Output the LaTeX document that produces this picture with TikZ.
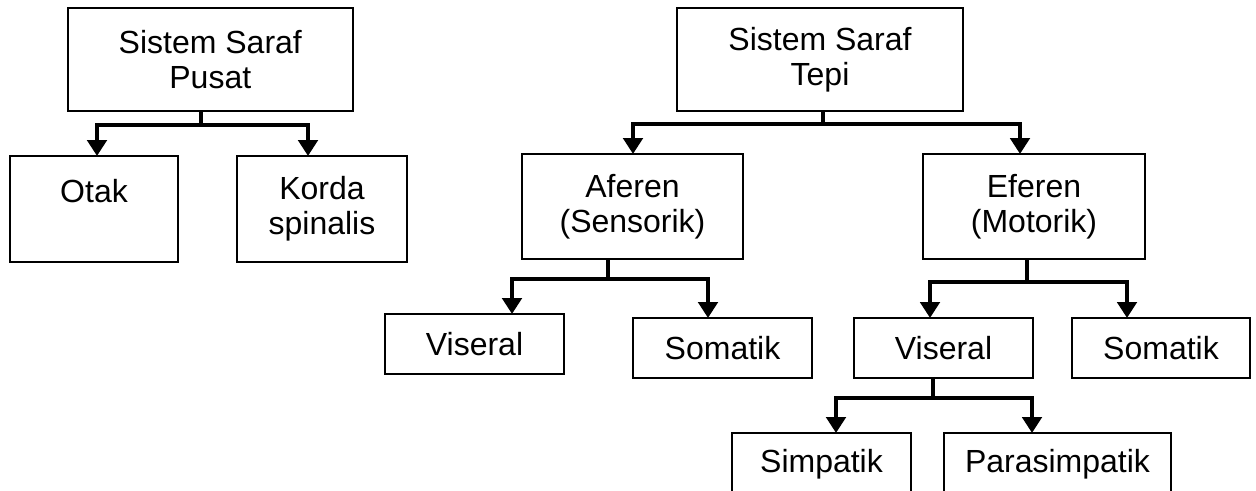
\documentclass[tikz,border=0pt]{standalone}
\usepackage{fontspec}
\setmainfont{Liberation Sans}
\usetikzlibrary{arrows.meta}
\begin{document}
\begin{tikzpicture}[x=0.75pt,y=-0.75pt,
  bx/.style={draw, line width=1.3pt, inner sep=0pt, outer sep=0pt, align=center,
    font=\fontsize{24}{26.5}\selectfont},
  conn/.style={line width=3pt, line join=miter, -{Triangle[width=14.5pt,length=12pt]}},
  stemline/.style={line width=3pt}]
\useasboundingbox (0,0) rectangle (1256,490);
\clip (0,0) rectangle (1256,490);
% boxes
\node[bx, minimum width=285*0.75pt, minimum height=103*0.75pt] (pusat) at (210.3,59.5) {Sistem Saraf\\Pusat};
\node[bx, minimum width=168*0.75pt, minimum height=106*0.75pt] (otak) at (94,209) {Otak\\\mbox{}};
\node[bx, minimum width=170*0.75pt, minimum height=106*0.75pt] (korda) at (322,209) {Korda\\spinalis};
\node[bx, minimum width=286*0.75pt, minimum height=103*0.75pt] (tepi) at (820,59.5) {Sistem Saraf\\Tepi};
\node[bx, minimum width=221*0.75pt, minimum height=105*0.75pt] (aferen) at (632.5,206.5) {Aferen\\(Sensorik)};
\node[bx, minimum width=222*0.75pt, minimum height=105*0.75pt] (eferen) at (1034,206.5) {Eferen\\(Motorik)};
\node[bx, minimum width=179*0.75pt, minimum height=60*0.75pt] (visL) at (474.5,344) {Viseral};
\node[bx, minimum width=179*0.75pt, minimum height=60*0.75pt] (somL) at (722.5,348) {Somatik};
\node[bx, minimum width=179*0.75pt, minimum height=60*0.75pt] (visR) at (943.5,348) {Viseral};
\node[bx, minimum width=178*0.75pt, minimum height=60*0.75pt] (somR) at (1161,348) {Somatik};
\node[bx, minimum width=179*0.75pt, minimum height=62*0.75pt] (simp) at (821.5,464) {Simpatik};
\node[bx, minimum width=227*0.75pt, minimum height=62*0.75pt] (para) at (1057.5,464) {Parasimpatik};
% bus junctions
\coordinate (b1) at (201,125);
\coordinate (b2) at (823,124);
\coordinate (b3) at (608,279);
\coordinate (b4) at (1027,282);
\coordinate (b5) at (933,398);
% connectors
\draw[stemline] ([shift={(-9.3,0)}]pusat.south) -- (b1);
\draw[conn] (b1) -| ([shift={(3,0)}]otak.north);
\draw[conn] (b1) -| ([shift={(-14,0)}]korda.north);
\draw[stemline] ([shift={(3,0)}]tepi.south) -- (b2);
\draw[conn] (b2) -| ([shift={(0.5,0)}]aferen.north);
\draw[conn] (b2) -| ([shift={(-14,0)}]eferen.north);
\draw[stemline] ([shift={(-24.5,0)}]aferen.south) -- (b3);
\draw[conn] (b3) -| ([shift={(37.5,0)}]visL.north);
\draw[conn] (b3) -| ([shift={(-14.5,0)}]somL.north);
\draw[stemline] ([shift={(-7,0)}]eferen.south) -- (b4);
\draw[conn] (b4) -| ([shift={(-13.5,0)}]visR.north);
\draw[conn] (b4) -| ([shift={(-34,0)}]somR.north);
\draw[stemline] ([shift={(-10.5,0)}]visR.south) -- (b5);
\draw[conn] (b5) -| ([shift={(14.5,0)}]simp.north);
\draw[conn] (b5) -| ([shift={(-25.5,0)}]para.north);
\end{tikzpicture}
\end{document}
